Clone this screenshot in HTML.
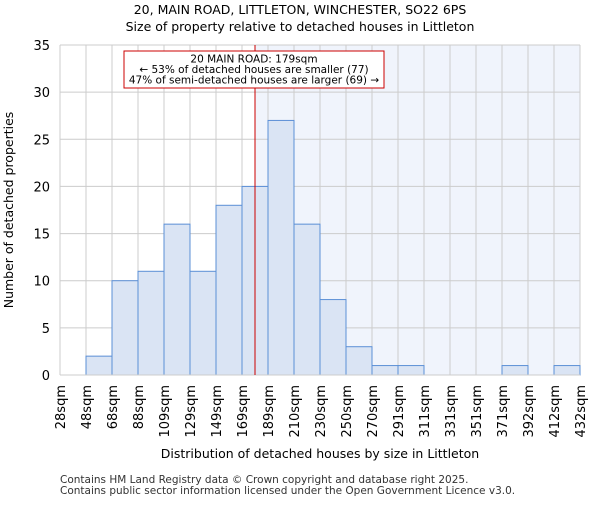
<!DOCTYPE html>
<html><head><meta charset="utf-8"><style>body{margin:0;background:#fff}svg text{font-family:"DejaVu Sans","Liberation Sans",sans-serif}</style></head>
<body>
<svg id="c" width="600" height="500"></svg>
<script>
const edges=["28sqm","48sqm","68sqm","88sqm","109sqm","129sqm","149sqm","169sqm","189sqm","210sqm","230sqm","250sqm","270sqm","291sqm","311sqm","331sqm","351sqm","371sqm","392sqm","412sqm","432sqm"];
const counts=[0,2,10,11,16,11,18,20,27,16,8,3,1,1,0,0,0,1,0,1];
const yTicks=[0,5,10,15,20,25,30,35];
const marker=179;
const edgeVals=[28,48,68,88,109,129,149,169,189,210,230,250,270,291,311,331,351,371,392,412,432];
const L=60,R=580,T=45,B=375,ymax=35;
const svg=document.getElementById('c');const NS='http://www.w3.org/2000/svg';
function el(t,a,p){const e=document.createElementNS(NS,t);for(const k in a)e.setAttribute(k,a[k]);(p||svg).appendChild(e);return e;}
const n=counts.length,bw=(R-L)/n;
const xi=i=>L+i*bw;
const y=v=>B-(v/ymax)*(B-T);
function xv(v){for(let i=0;i<edgeVals.length-1;i++){if(v<=edgeVals[i+1])return xi(i)+(v-edgeVals[i])/(edgeVals[i+1]-edgeVals[i])*bw;}return R;}
const mx=xv(marker);
let s=el('rect',{x:mx,y:T,width:R-mx,height:B-T,fill:'#f0f4fc'});

for(let i=0;i<=n;i++){const g=el('line',{x1:xi(i),x2:xi(i),y1:T,y2:B,stroke:'#cccccc','stroke-width':1});}
yTicks.forEach(t=>{const g=el('line',{x1:L,x2:R,y1:y(t),y2:y(t),stroke:'#cccccc','stroke-width':1});
const tx=el('text',{x:L-10,y:y(t)+5,'text-anchor':'end','font-size':13,fill:'#000'});tx.textContent=t;});
counts.forEach((c,i)=>{if(!c)return;const r=el('rect',{x:xi(i),y:y(c),width:bw,height:B-y(c),fill:'#dae4f4',stroke:'#5b8fd6','stroke-width':1});});
const ax=el('line',{x1:L,x2:R,y1:B,y2:B,stroke:'#cccccc'});
const ay=el('line',{x1:L,x2:L,y1:T,y2:B,stroke:'#cccccc'});
edges.forEach((e,i)=>{const tx=el('text',{transform:`translate(${xi(i)+5},${B+10}) rotate(-90)`,'text-anchor':'end','font-size':13,fill:'#000'});tx.textContent=e;});
const ml=el('line',{x1:mx,x2:mx,y1:T,y2:B,stroke:'#cc0000','stroke-width':1});
const bx=el('rect',{x:124,y:51,width:260,height:37,fill:'#fff',stroke:'#cc0000','stroke-width':1});
["20 MAIN ROAD: 179sqm","← 53% of detached houses are smaller (77)","47% of semi-detached houses are larger (69) →"].forEach((t,i)=>{const tx=el('text',{x:254,y:62.5+i*10.5,'text-anchor':'middle','font-size':10.5,fill:'#000'});tx.textContent=t;});
function txt(t,a,name){const e=el('text',a);e.textContent=t;}
txt("20, MAIN ROAD, LITTLETON, WINCHESTER, SO22 6PS",{x:300,y:14,'text-anchor':'middle','font-size':12.5},'chart-title');
txt("Size of property relative to detached houses in Littleton",{x:300,y:31,'text-anchor':'middle','font-size':12.5},'chart-subtitle');
txt("Distribution of detached houses by size in Littleton",{x:320,y:458,'text-anchor':'middle','font-size':12.5},'x-axis-title');
txt("Number of detached properties",{transform:'translate(13,210) rotate(-90)','text-anchor':'middle','font-size':12.5},'y-axis-title');
txt("Contains HM Land Registry data © Crown copyright and database right 2025.",{x:60,y:483,'font-size':10.5,fill:'#333'},'footer-line-1');
txt("Contains public sector information licensed under the Open Government Licence v3.0.",{x:60,y:494,'font-size':10.5,fill:'#333'},'footer-line-2');
</script>
</body></html>
